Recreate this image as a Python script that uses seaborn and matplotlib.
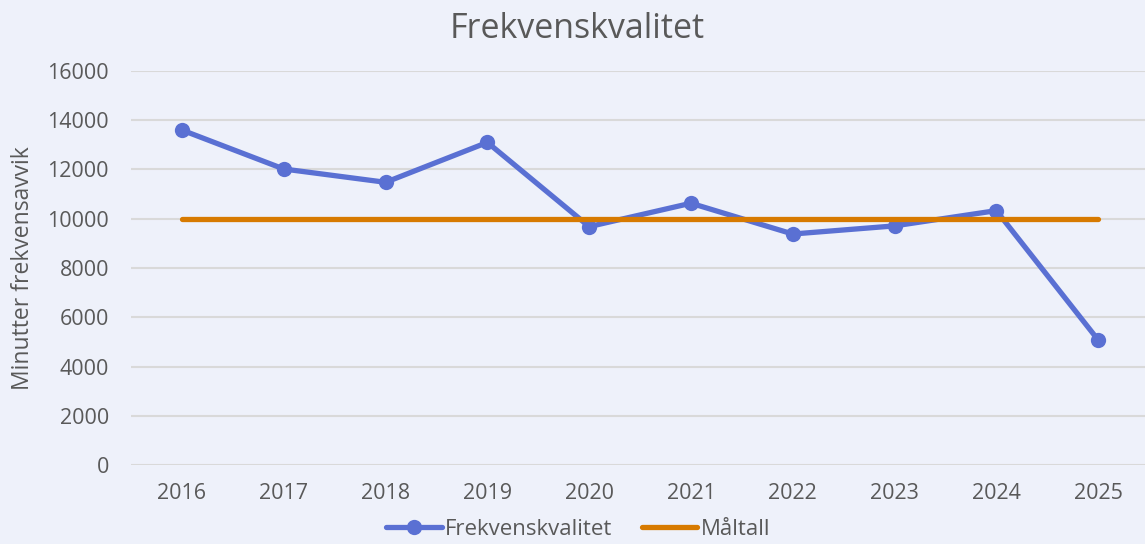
import matplotlib
matplotlib.use("Agg")
import matplotlib.pyplot as plt
import seaborn as sns
import pandas as pd

years = ["2016", "2017", "2018", "2019", "2020", "2021", "2022", "2023", "2024", "2025"]
frekvenskvalitet = [13600, 12020, 11480, 13100, 9680, 10630, 9380, 9710, 10330, 5080]
maltall = [10000] * 10
y_ticks = [0, 2000, 4000, 6000, 8000, 10000, 12000, 14000, 16000]

sns.set_theme(style="white")
plt.rcParams["font.family"] = ["Open Sans", "DejaVu Sans"]

bg = "#EEF1FA"
txt = "#595959"
blue = "#5A70D3"
orange = "#D77A00"

df = pd.DataFrame({"År": years, "Frekvenskvalitet": frekvenskvalitet, "Måltall": maltall})

fig = plt.figure(figsize=(11.45, 5.44), dpi=100, facecolor=bg)
ax = fig.add_axes([0.1145, 0.1452, 0.889, 0.7243])
ax.set_facecolor(bg)

sns.lineplot(data=df, x="År", y="Måltall", ax=ax, color=orange, linewidth=3.8,
             solid_capstyle="round", label="Måltall", zorder=3)
sns.lineplot(data=df, x="År", y="Frekvenskvalitet", ax=ax, color=blue, linewidth=3.8,
             marker="o", markersize=11, markeredgewidth=0, label="Frekvenskvalitet", zorder=2)

ax.set_xlim(-0.5, 9.5)
ax.set_ylim(0, 16000)
ax.set_yticks(y_ticks)
ax.set_yticklabels([str(v) for v in y_ticks])
ax.yaxis.grid(True, color="#D9D9D9", linewidth=1.5)
ax.set_axisbelow(True)
for s in ax.spines.values():
    s.set_visible(False)
ax.tick_params(axis="both", length=0, labelsize=15.5, colors=txt)
ax.tick_params(axis="y", pad=16)
ax.tick_params(axis="x", pad=13)
ax.set_xlabel("")
ax.set_ylabel("Minutter frekvensavvik", fontsize=16.5, color=txt, labelpad=9)

fig.text(0.504, 1 - 29 / 544, "Frekvenskvalitet", ha="center", va="center",
         fontsize=24.5, color=txt)

handles, labels = ax.get_legend_handles_labels()
order = [labels.index("Frekvenskvalitet"), labels.index("Måltall")]
ax.get_legend().remove()
leg = fig.legend([handles[i] for i in order], [labels[i] for i in order],
                 loc="center", bbox_to_anchor=(0.505, 0.027), ncol=2, frameon=False,
                 fontsize=16, handlelength=2.5, handletextpad=0.15, columnspacing=1.3,
                 borderpad=0.0)
for t in leg.get_texts():
    t.set_color(txt)

fig.savefig("out.png", dpi=100, facecolor=bg)
